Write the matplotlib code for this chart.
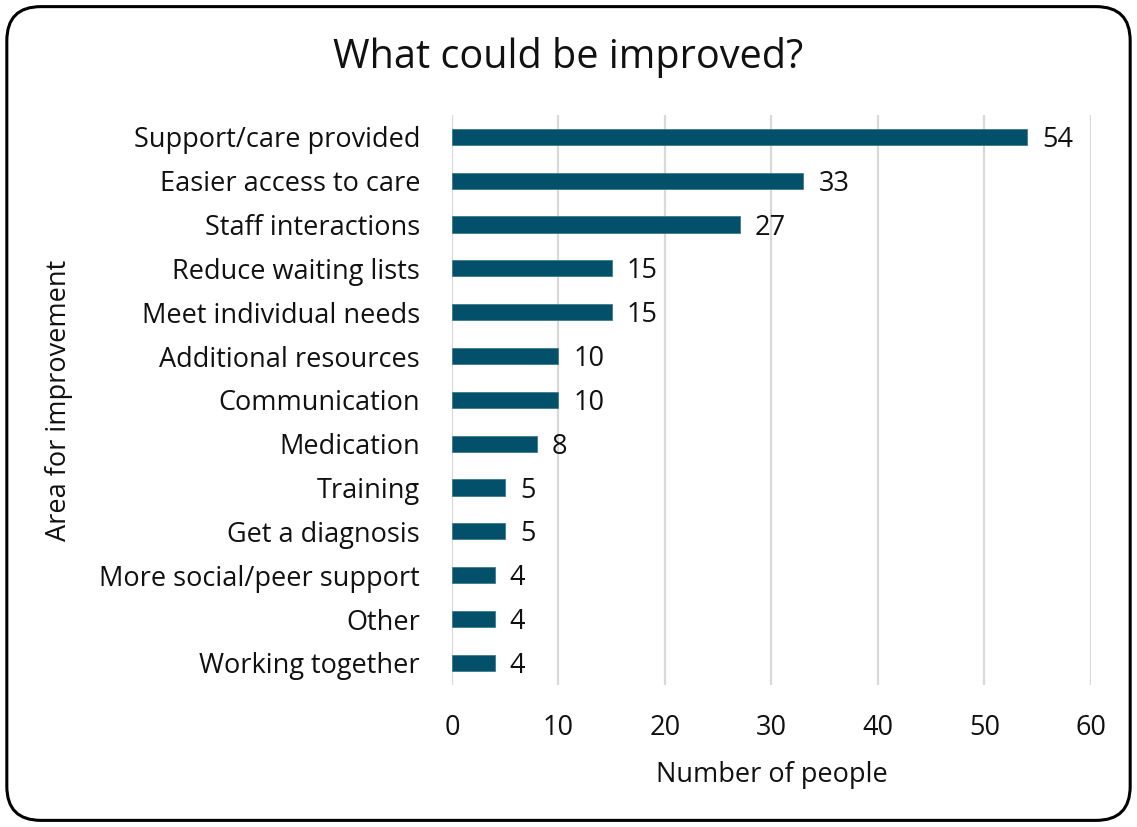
import matplotlib
matplotlib.use("Agg")
import matplotlib.pyplot as plt
from matplotlib.patches import FancyBboxPatch

categories = [
    "Support/care provided",
    "Easier access to care",
    "Staff interactions",
    "Reduce waiting lists",
    "Meet individual needs",
    "Additional resources",
    "Communication",
    "Medication",
    "Training",
    "Get a diagnosis",
    "More social/peer support",
    "Other",
    "Working together",
]
counts = [54, 33, 27, 15, 15, 10, 10, 8, 5, 5, 4, 4, 4]
x_ticks = [0, 10, 20, 30, 40, 50, 60]

bar_color = "#02506A"
text_color = "#111111"
label_size = 19.5
plt.rcParams["font.family"] = ["Open Sans", "DejaVu Sans"]

fig = plt.figure(figsize=(11.37, 8.27), dpi=100)

# rounded outer frame
frame = FancyBboxPatch((0.006, 0.008), 0.988, 0.984,
                       boxstyle="round,pad=0,rounding_size=0.03",
                       transform=fig.transFigure, fill=False,
                       edgecolor="#000000", linewidth=2.2,
                       mutation_aspect=1137 / 827)
fig.patches.append(frame)

ax = fig.add_axes([0.3975, 0.172, 0.562, 0.689])
ypos = list(range(len(categories)))
ax.barh(ypos, counts, height=0.37, color=bar_color,
        edgecolor="#3f7a8e", linewidth=0.6, zorder=3)

for y, v in zip(ypos, counts):
    ax.text(v + 1.4, y + 0.07, str(v), va="center", ha="left",
            fontsize=label_size, color=text_color)

ax.set_xlim(0, 60)
ax.set_ylim(len(categories) - 0.5, -0.5)
ax.set_xticks(x_ticks)
ax.set_yticks(ypos)
ax.set_yticklabels(categories, fontsize=label_size, color=text_color)
ax.tick_params(axis="x", labelsize=label_size, colors=text_color, length=0, pad=21)
ax.tick_params(axis="y", length=0, pad=23)
ax.xaxis.grid(True, color="#d9d9d9", linewidth=1.6, zorder=0)
ax.set_axisbelow(True)
for s in ax.spines.values():
    s.set_visible(False)

ax.set_xlabel("Number of people", fontsize=label_size, color=text_color, labelpad=14)
fig.text(0.052, 0.516, "Area for improvement", rotation=90, fontsize=label_size,
         color=text_color, ha="center", va="center")
fig.text(0.5, 0.931, "What could be improved?", fontsize=28.5,
         color=text_color, ha="center", va="center")

fig.savefig("out.png", dpi=100)
